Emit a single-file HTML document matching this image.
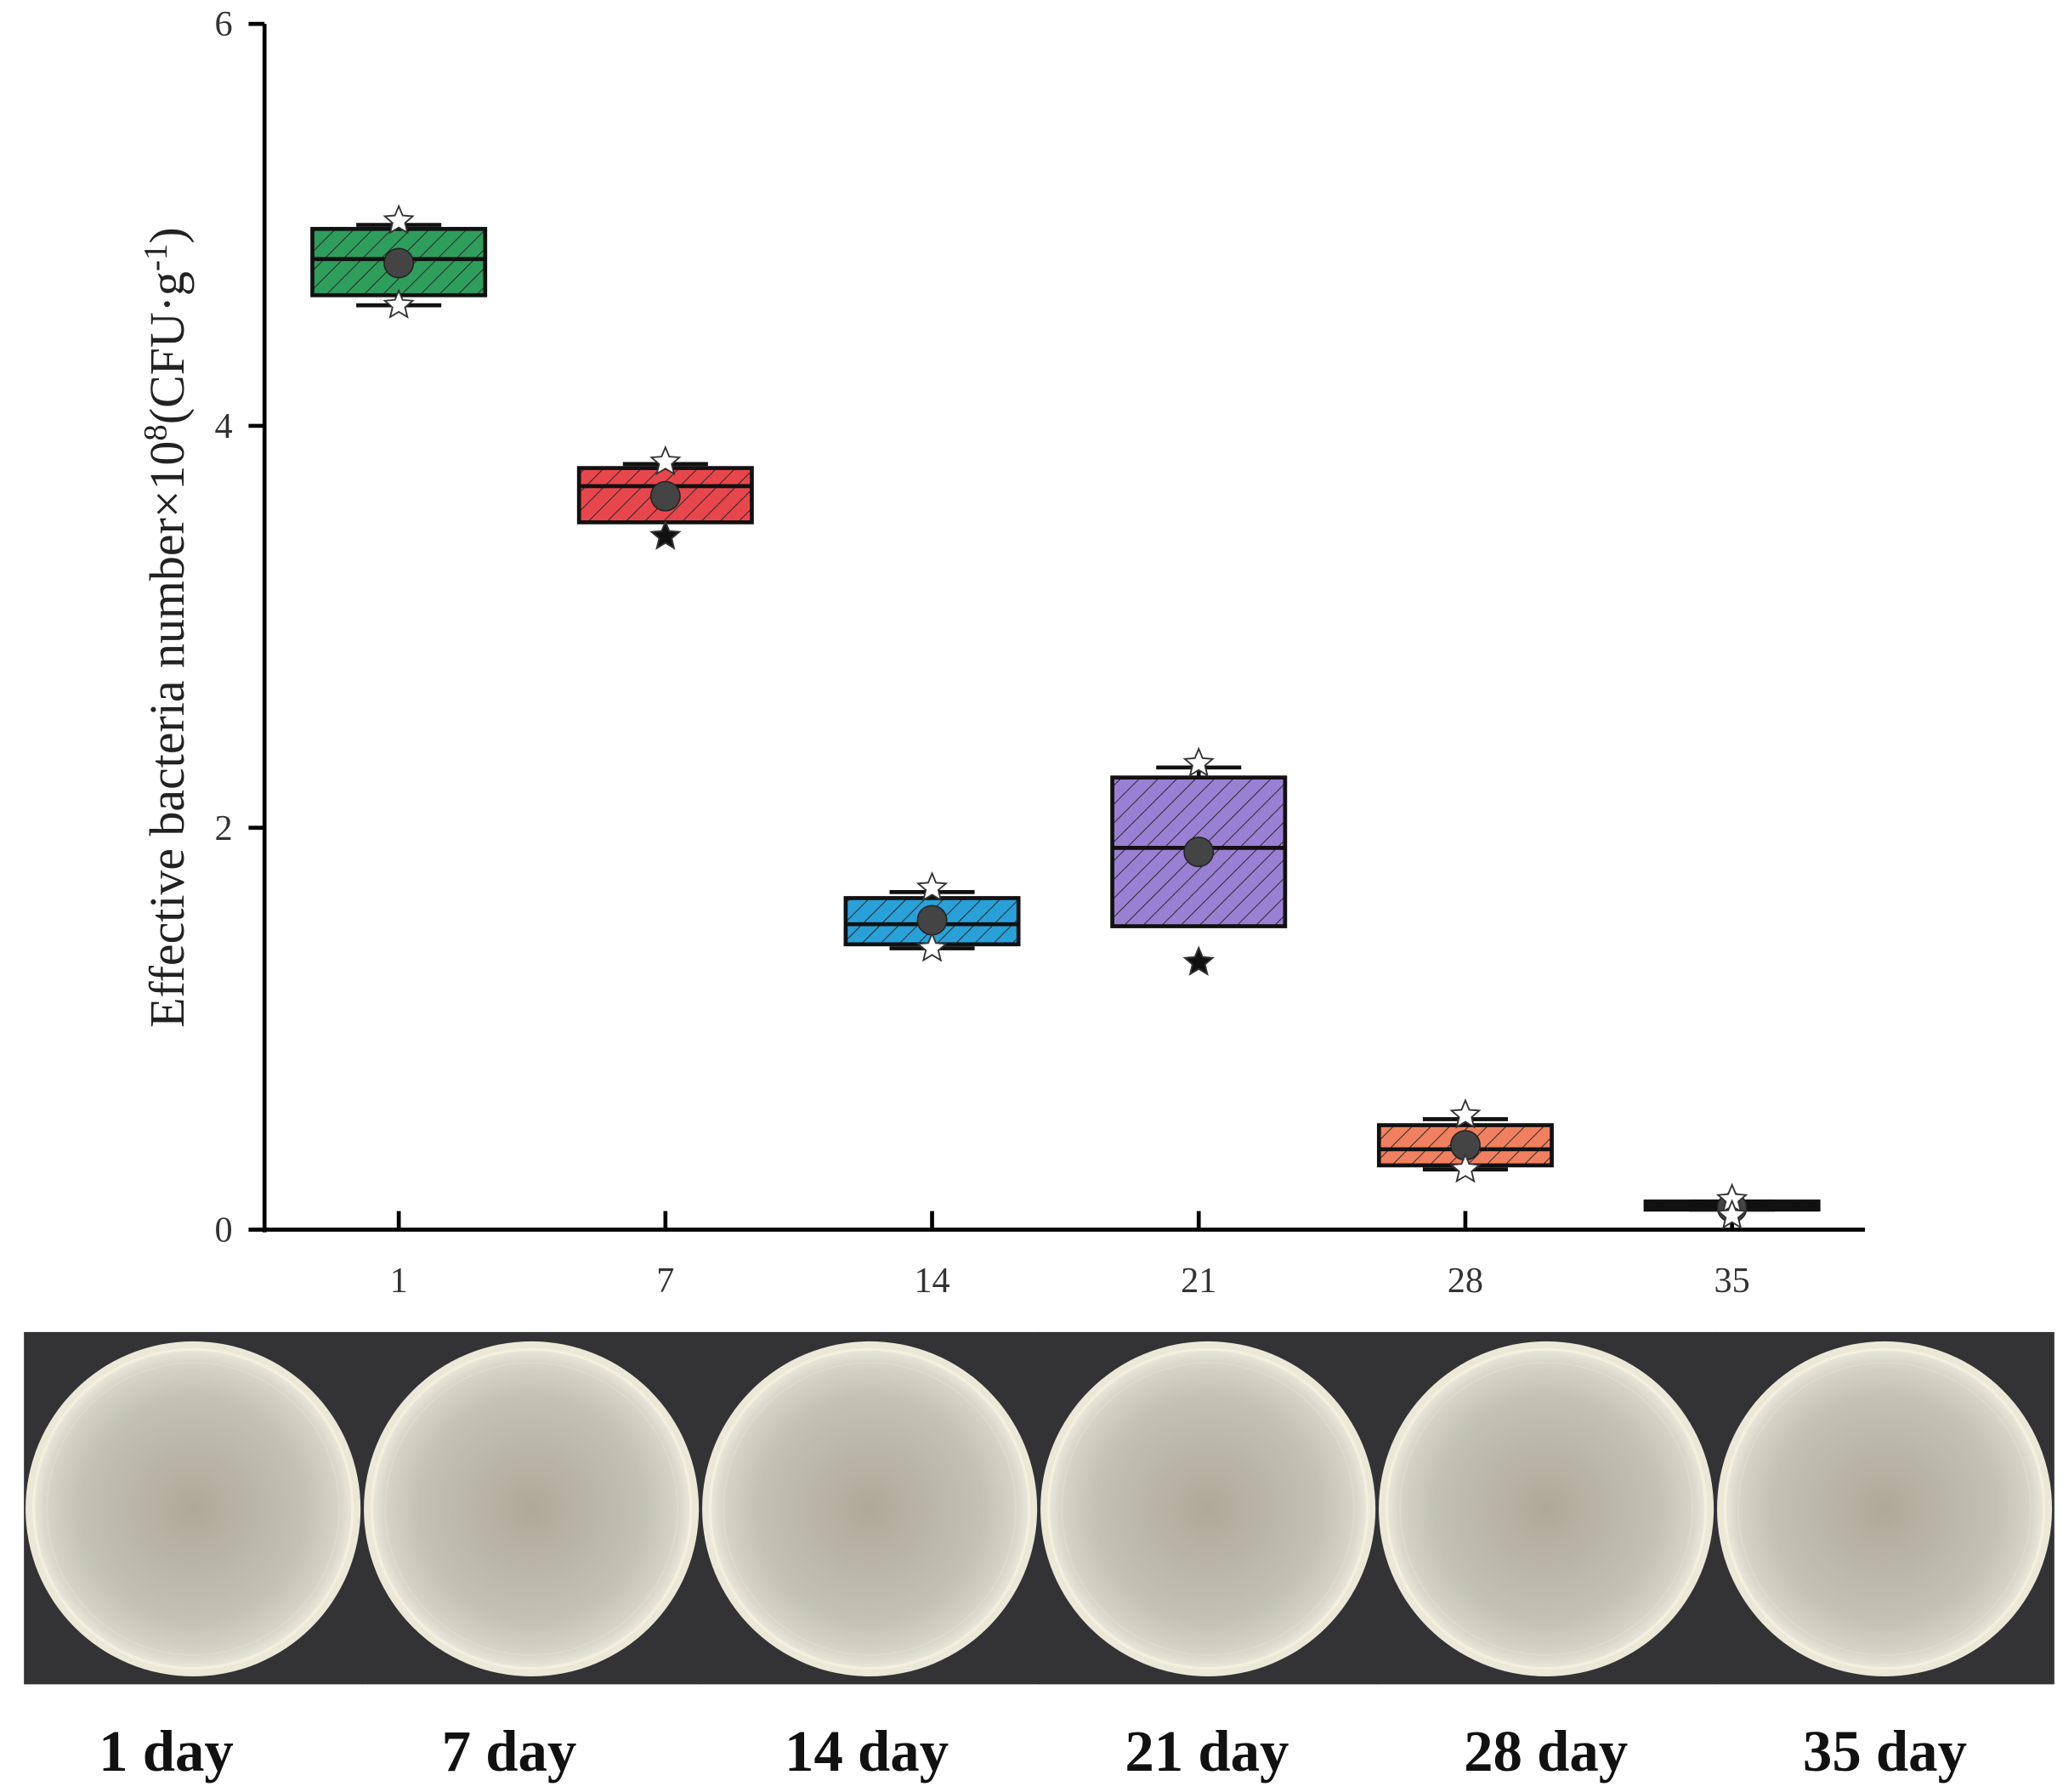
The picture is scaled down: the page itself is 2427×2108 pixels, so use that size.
<!DOCTYPE html>
<html><head><meta charset="utf-8"><style>
html,body{margin:0;padding:0;background:#fff}
svg{display:block}
</style></head><body>
<svg id="chart" width="2427" height="2108" viewBox="0 0 1552 1348" preserveAspectRatio="none" xmlns="http://www.w3.org/2000/svg">
<defs>
<pattern id="hatch" patternUnits="userSpaceOnUse" width="10" height="10" patternTransform="rotate(45)">
<line x1="0" y1="0" x2="0" y2="10" stroke="#222" stroke-width="1.2"/>
</pattern>
<radialGradient id="agar" cx="50%" cy="50%" r="50%">
<stop offset="0%" stop-color="#b0a899"/><stop offset="70%" stop-color="#c2c2b3"/><stop offset="92%" stop-color="#d6d5c7"/><stop offset="100%" stop-color="#ebe8da"/>
</radialGradient>
</defs>
<g id="axes"></g>
<g id="marks"></g>
<g id="plates"></g>
</svg>
<script>
const categories = ["1","7","14","21","28","35"];
const q1 = [4.65, 3.52, 1.42, 1.51, 0.32, 0.10];
const q3 = [4.98, 3.79, 1.65, 2.25, 0.52, 0.14];
const medians = [4.83, 3.70, 1.52, 1.90, 0.40, 0.12];
const means = [4.81, 3.65, 1.54, 1.88, 0.42, 0.11];
const whiskLo = [4.60, 3.60, 1.40, 1.80, 0.30, 0.10];
const whiskHi = [5.00, 3.81, 1.68, 2.30, 0.55, 0.14];
const starHi = [5.02, 3.82, 1.70, 2.32, 0.57, 0.15];
const starLo = [4.60, 3.45, 1.40, 1.33, 0.30, 0.07];
const starLoFilled = [false, true, false, true, false, false];
const colors = ["#2f9d5c","#e7474c","#2aa0d8","#9a80d3","#f0805f","#111"];
const yTicks = [0, 2, 4, 6];
const plateLabels = ["1 day","7 day","14 day","21 day","28 day","35 day"];

const NS="http://www.w3.org/2000/svg";
const X0=199, X1=1403, Y0=925, Y1=18;
const yS = v => Y0 - v*(Y0-Y1)/6;
const xS = i => 300 + i*200.6;
function mk(tag, attrs, parent){const e=document.createElementNS(NS,tag);for(const k in attrs)e.setAttribute(k,attrs[k]);parent.appendChild(e);return e;}
const axes=document.getElementById('axes'), marks=document.getElementById('marks'), plates=document.getElementById('plates');

let a=mk('line',{x1:X0,y1:Y1,x2:X0,y2:Y0+2,stroke:'#000','stroke-width':3},axes);


a=mk('line',{x1:X0-1,y1:Y0,x2:X1,y2:Y0,stroke:'#000','stroke-width':3},axes);


yTicks.forEach(v=>{
  const y=yS(v);
  mk('line',{x1:X0-12,y1:y,x2:X0,y2:y,stroke:'#000','stroke-width':3},axes);
  const t=mk('text',{x:X0-24,y:y+9,'text-anchor':'end','font-family':'Liberation Serif, serif','font-size':27,fill:'#333'},axes);
  t.textContent=v;
  
  
});
categories.forEach((c,i)=>{
  const x=xS(i);
  mk('line',{x1:x,y1:Y0-14,x2:x,y2:Y0,stroke:'#000','stroke-width':3},axes);
  const t=mk('text',{x:x,y:Y0+47,'text-anchor':'middle','font-family':'Liberation Serif, serif','font-size':27,fill:'#333'},axes);
  t.textContent=c;
  
  
});
const yt=mk('text',{transform:'translate(138,472) rotate(-90)','text-anchor':'middle','font-family':'Liberation Serif, serif','font-size':37,fill:'#222'},axes);
yt.innerHTML='Effective bacteria number×10<tspan dy="-13" font-size="25">8</tspan><tspan dy="13">(CFU·g</tspan><tspan dy="-13" font-size="25">-1</tspan><tspan dy="13">)</tspan>';



function star(cx,cy,r,filled,parent){
  let p='';for(let k=0;k<10;k++){const ang=-Math.PI/2+k*Math.PI/5;const rr=k%2?r*0.45:r;p+=(cx+rr*Math.cos(ang)).toFixed(1)+','+(cy+rr*Math.sin(ang)).toFixed(1)+' ';}
  return mk('polygon',{points:p,fill:filled?'#111':'#fff','stroke':'#333','stroke-width':1.2},parent);
}
categories.forEach((c,i)=>{
  const g=mk('g',{},marks);
  
  
  const x=xS(i), w=130, cap=32;
  mk('line',{x1:x,y1:yS(whiskHi[i]),x2:x,y2:yS(whiskLo[i]),stroke:'#111','stroke-width':3},g);
  mk('line',{x1:x-cap,y1:yS(whiskHi[i]),x2:x+cap,y2:yS(whiskHi[i]),stroke:'#111','stroke-width':3},g);
  mk('line',{x1:x-cap,y1:yS(whiskLo[i]),x2:x+cap,y2:yS(whiskLo[i]),stroke:'#111','stroke-width':3},g);
  const top=yS(q3[i]), h=Math.max(yS(q1[i])-top,2);
  mk('rect',{x:x-w/2,y:top,width:w,height:h,fill:colors[i]},g);
  mk('rect',{x:x-w/2,y:top,width:w,height:h,fill:'url(#hatch)',stroke:'#111','stroke-width':3},g);
  mk('line',{x1:x-w/2,y1:yS(medians[i]),x2:x+w/2,y2:yS(medians[i]),stroke:'#111','stroke-width':3},g);
  mk('circle',{cx:x,cy:yS(means[i]),r:11,fill:'#444',stroke:'#222','stroke-width':1},g);
  star(x,yS(starHi[i]),11,false,g);
  star(x,yS(starLo[i]),11,starLoFilled[i],g);
});

const labelX=[125,383,652,908,1163,1418];
plateLabels.forEach((l,i)=>{
  const g=mk('g',{},plates);
  
  
  const px=18+i*254.5, pw=254.5;
  mk('rect',{x:px,y:1002,width:pw+0.5,height:265,fill:'#333335'},g);
  const cx=px+pw/2, cy=1135;
  mk('circle',{cx:cx,cy:cy,r:126,fill:'#ece8d8'},g);
  mk('circle',{cx:cx,cy:cy,r:120,fill:'url(#agar)',stroke:'#f4f0e0','stroke-width':2},g);
  mk('circle',{cx:cx,cy:cy,r:110,fill:'none',stroke:'#dcdacb','stroke-width':1.5},g);
  const t=mk('text',{x:labelX[i],y:1332,'text-anchor':'middle','font-family':'Liberation Serif, serif','font-size':44,'font-weight':'bold',fill:'#111'},plates);
  t.textContent=l;
  
  
});
</script>
</body></html>
